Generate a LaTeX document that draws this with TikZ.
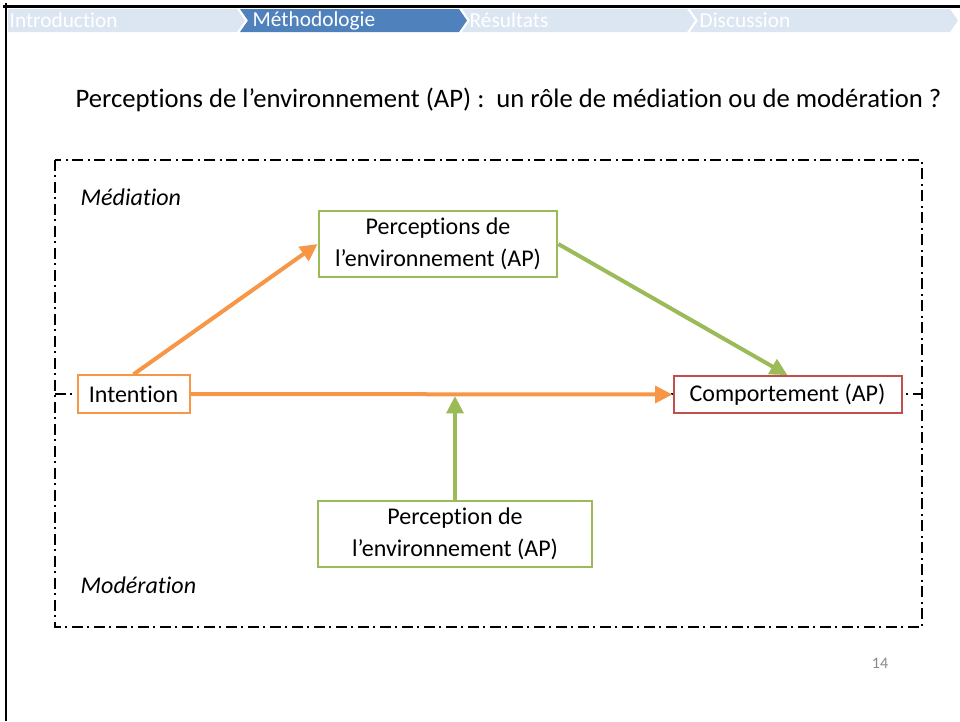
\documentclass[tikz,border=0pt]{standalone}
\usepackage{fontspec}
\setmainfont[Ligatures=NoCommon]{Carlito}
\usetikzlibrary{arrows.meta}

\definecolor{apOrange}{HTML}{F79646}
\definecolor{apGreen}{HTML}{9BBB59}
\definecolor{apRed}{HTML}{C0504D}
\definecolor{navBlue}{HTML}{4F81BD}
\definecolor{navLight}{HTML}{DCE6F2}
\definecolor{pageGray}{HTML}{898989}

\tikzstyle{orangebox} = [rectangle, text centered, draw=apOrange, line width=1.5pt, fill=white, font=\fontsize{18}{22}\selectfont]
\tikzstyle{greenbox} = [rectangle, text centered, align=center, draw=apGreen, line width=1.5pt, fill=white, font=\fontsize{18}{24}\selectfont]
\tikzstyle{redbox} = [rectangle, text centered, draw=apRed, line width=1.5pt, fill=white, font=\fontsize{18}{22}\selectfont]
\tikzstyle{orangearrow} = [draw=apOrange, line width=3pt, -{Triangle[length=13pt,width=12.5pt]}]
\tikzstyle{greenarrow} = [draw=apGreen, line width=3pt, -{Triangle[length=13pt,width=12.5pt]}]
\tikzstyle{dashdotline} = [line width=1.2pt, dash pattern=on 8pt off 3.5pt on 1.5pt off 3.5pt]
\tikzstyle{navtext} = [anchor=west, text=white, font=\fontsize{16}{18}\selectfont]

\begin{document}
\begin{tikzpicture}[x=0.75pt, y=-0.75pt]
        \useasboundingbox (0,0) rectangle (960,721);

        % slide frame
        \draw [line width=2pt] (3,6.5) -- (960,6.5);
        \draw [line width=2pt] (6,3) -- (6,721);

        % navigation bar
        \fill [navLight] (8,9) -- (237,9) -- (245,20.5) -- (237,32) -- (8,32) -- cycle;
        \fill [navBlue] (240,9) -- (459,9) -- (467,20.5) -- (459,32) -- (240,32) -- (248,20.5) -- cycle;
        \fill [navLight] (462,9) -- (687,9) -- (695,20.5) -- (687,32) -- (462,32) -- (470,20.5) -- cycle;
        \fill [navLight] (690,9) -- (950,9) -- (958,20.5) -- (950,32) -- (690,32) -- (698,20.5) -- cycle;
        \node (navIntro) [navtext] at (5,20.5) {Introduction};
        \node (navMethod) [navtext] at (248,20.5) {Méthodologie};
        \node (navResult) [navtext] at (465,20.5) {Résultats};
        \node (navDiscuss) [navtext] at (695,20.5) {Discussion};

        % title
        \node (title) [anchor=west, font=\fontsize{20}{24}\selectfont] at (71,100) {Perceptions de l’environnement (AP) :\ \ un rôle de médiation ou de modération ?};

        % frame of the two models
        \draw [dashdotline] (55,160) rectangle (922,627);
        \coordinate (midLeft) at (55,394);
        \coordinate (midRight) at (922,394);
        \draw [dashdotline] (midLeft) -- (midRight);

        \node (mediation) [anchor=west, font=\fontsize{18}{22}\selectfont\itshape] at (76,197) {Médiation};
        \node (moderation) [anchor=west, font=\fontsize{18}{22}\selectfont\itshape] at (76,585) {Modération};

        \node (intention) [orangebox, minimum width=84pt, minimum height=28pt] at (133.5,394) {Intention};
        \node (perceptMed) [greenbox, minimum width=179pt, minimum height=50pt] at (438,244) {Perceptions de\\l’environnement (AP)};
        \node (comportement) [redbox, minimum width=171pt, minimum height=27.5pt] at (787.5,394.5) {Comportement (AP)};
        \node (perceptMod) [greenbox, minimum width=205pt, minimum height=49.5pt] at (455,533.5) {Perception de\\l’environnement (AP)};
        \coordinate (modPoint) at (455,396);

        \draw [orangearrow] (intention.north) -- (perceptMed.west);
        \draw [greenarrow] (perceptMed.east) -- (comportement.north);
        \draw [orangearrow] (intention.east) -- (comportement.west);
        \draw [greenarrow] (perceptMod.north) -- (modPoint);

        % slide number
        \node (pageNum) [text=pageGray, font=\fontsize{12}{14}\selectfont] at (880,663) {14};
\end{tikzpicture}
\end{document}
